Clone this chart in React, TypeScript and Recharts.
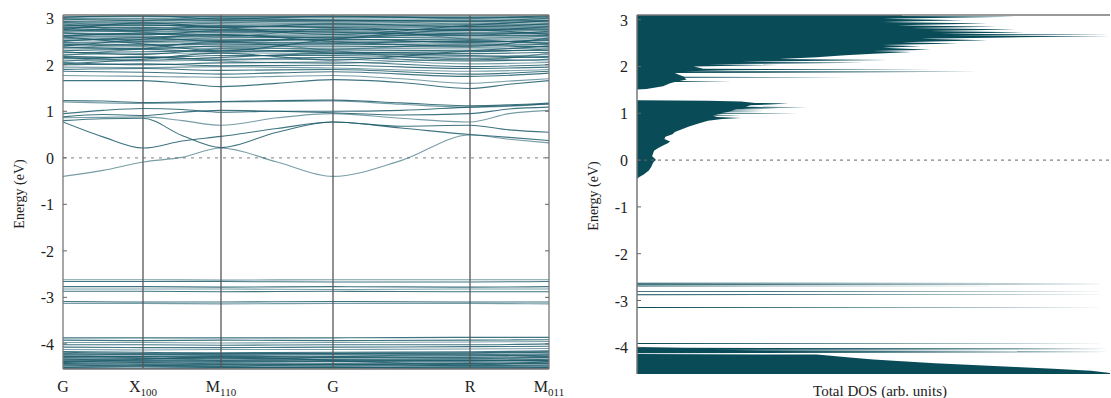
import React from 'react';
import { ComposedChart, AreaChart, Area, Line, XAxis, YAxis, ReferenceLine } from 'recharts';

// high-symmetry path
const kTicks = [0, 0.8, 1.58, 2.7, 4.07, 4.86];
const kNames = ['G', 'X', 'M', 'G', 'R', 'M'];
const kSubs = ['', '100', '110', '', '', '011'];
// finer path for the bands inside the gap
const kFine = [0, 0.4, 0.8, 1.19, 1.58, 2.14, 2.7, 3.38, 4.07, 4.46, 4.86];
const energyTicks = [-4, -3, -2, -1, 0, 1, 2, 3];

// bands around the Fermi level, on kFine
const gapBands = [
  [-0.40, -0.27, -0.09, 0.01, 0.21, -0.09, -0.40, -0.06, 0.49, 0.40, 0.32],
  [0.77, 0.45, 0.21, 0.36, 0.46, 0.63, 0.77, 0.64, 0.50, 0.44, 0.37],
  [0.80, 0.84, 0.85, 0.48, 0.22, 0.55, 0.77, 0.68, 0.70, 0.60, 0.55],
  [0.86, 0.87, 0.88, 0.80, 0.70, 0.86, 0.95, 0.85, 0.77, 0.95, 1.02],
  [0.88, 0.93, 0.91, 0.98, 1.02, 1.00, 0.97, 0.92, 0.95, 1.05, 1.09],
  [0.95, 1.02, 1.06, 1.04, 0.98, 1.00, 1.00, 1.02, 1.09, 1.12, 1.16],
  [1.20, 1.18, 1.17, 1.18, 1.20, 1.21, 1.22, 1.15, 1.09, 1.11, 1.16],
  [1.23, 1.22, 1.19, 1.20, 1.21, 1.23, 1.24, 1.18, 1.12, 1.14, 1.18],
  [1.66, 1.66, 1.66, 1.60, 1.53, 1.60, 1.68, 1.62, 1.49, 1.58, 1.66],
  [1.77, 1.76, 1.75, 1.74, 1.73, 1.75, 1.77, 1.70, 1.60, 1.65, 1.70],
];

// conduction manifold, values at kTicks
const upperBands = [
  [1.86, 1.84, 1.80, 1.85, 1.75, 1.82],
  [1.90, 1.92, 1.88, 1.90, 1.80, 1.86],
  [1.95, 1.94, 1.96, 1.93, 1.86, 1.90],
  [2.00, 2.02, 1.98, 1.99, 1.92, 1.95],
  [2.05, 2.00, 2.04, 2.06, 1.96, 2.00],
  [2.10, 2.08, 2.10, 2.12, 2.02, 2.05],
  [2.14, 2.16, 2.12, 2.16, 2.08, 2.12],
  [2.18, 2.15, 2.20, 2.20, 2.14, 2.18],
  [2.22, 2.24, 2.26, 2.24, 2.18, 2.22],
  [2.26, 2.28, 2.30, 2.28, 2.24, 2.27],
  [2.30, 2.33, 2.28, 2.32, 2.30, 2.31],
  [2.34, 2.36, 2.35, 2.36, 2.34, 2.36],
  [2.38, 2.35, 2.40, 2.40, 2.38, 2.40],
  [2.42, 2.44, 2.43, 2.44, 2.42, 2.44],
  [2.45, 2.48, 2.46, 2.48, 2.46, 2.48],
  [2.48, 2.50, 2.52, 2.51, 2.50, 2.52],
  [2.52, 2.55, 2.55, 2.54, 2.55, 2.56],
  [2.55, 2.58, 2.60, 2.58, 2.60, 2.60],
  [2.60, 2.60, 2.63, 2.62, 2.63, 2.63],
  [2.63, 2.65, 2.66, 2.66, 2.66, 2.66],
  [2.66, 2.68, 2.70, 2.69, 2.70, 2.70],
  [2.70, 2.72, 2.72, 2.72, 2.73, 2.73],
  [2.73, 2.75, 2.76, 2.76, 2.76, 2.76],
  [2.76, 2.78, 2.79, 2.80, 2.80, 2.80],
  [2.80, 2.80, 2.82, 2.83, 2.83, 2.83],
  [2.83, 2.84, 2.85, 2.86, 2.86, 2.86],
  [2.86, 2.88, 2.88, 2.89, 2.90, 2.89],
  [2.90, 2.90, 2.92, 2.92, 2.93, 2.92],
  [2.93, 2.94, 2.95, 2.95, 2.96, 2.95],
  [2.96, 2.98, 2.97, 2.98, 2.99, 2.98],
  [3.00, 3.00, 3.01, 3.01, 3.02, 3.01],
  [3.03, 3.04, 3.04, 3.04, 3.05, 3.04],
  [2.20, 2.35, 2.50, 2.30, 2.10, 2.25],
  [2.60, 2.45, 2.30, 2.55, 2.75, 2.65],
  [2.02, 2.12, 2.25, 2.10, 2.30, 2.40],
  [2.88, 2.70, 2.60, 2.78, 2.55, 2.45],
  [2.40, 2.55, 2.65, 2.50, 2.40, 2.58],
  [2.75, 2.90, 2.80, 2.65, 2.85, 2.95],
  [2.07, 2.18, 2.08, 2.03, 2.12, 2.08],
  [2.16, 2.10, 2.16, 2.24, 2.20, 2.15],
  [2.28, 2.22, 2.34, 2.26, 2.28, 2.34],
  [2.36, 2.42, 2.38, 2.34, 2.44, 2.38],
  [2.44, 2.40, 2.48, 2.46, 2.52, 2.46],
  [2.50, 2.58, 2.50, 2.56, 2.48, 2.54],
  [2.57, 2.52, 2.58, 2.60, 2.57, 2.62],
  [2.62, 2.68, 2.64, 2.58, 2.68, 2.68],
  [2.68, 2.64, 2.74, 2.70, 2.64, 2.72],
  [2.72, 2.78, 2.70, 2.74, 2.78, 2.78],
  [2.78, 2.74, 2.84, 2.80, 2.74, 2.82],
  [2.84, 2.86, 2.80, 2.88, 2.82, 2.88],
  [2.91, 2.84, 2.90, 2.94, 2.88, 2.94],
  [2.98, 2.95, 3.00, 2.96, 2.94, 3.00],
  [3.02, 3.06, 2.98, 3.05, 3.00, 3.06],
];

// flat semicore / deep bands, values at kTicks
const lowerBands = [
  [-2.62, -2.62, -2.63, -2.62, -2.62, -2.62],
  [-2.66, -2.66, -2.66, -2.67, -2.67, -2.66],
  [-2.77, -2.77, -2.78, -2.77, -2.78, -2.77],
  [-2.82, -2.82, -2.82, -2.83, -2.82, -2.82],
  [-2.87, -2.87, -2.88, -2.87, -2.88, -2.88],
  [-3.09, -3.10, -3.10, -3.09, -3.10, -3.10],
  [-3.13, -3.13, -3.14, -3.13, -3.13, -3.14],
  [-3.87, -3.87, -3.87, -3.87, -3.86, -3.86],
  [-3.92, -3.93, -3.92, -3.93, -3.92, -3.91],
  [-3.97, -3.97, -3.98, -3.97, -3.96, -3.95],
  [-4.02, -4.02, -4.03, -4.02, -4.02, -4.00],
  [-4.07, -4.08, -4.08, -4.07, -4.06, -4.05],
  [-4.12, -4.13, -4.12, -4.12, -4.11, -4.10],
];
const deepBands = [
  [-4.18, -4.20, -4.19, -4.18, -4.17, -4.15],
  [-4.21, -4.23, -4.22, -4.21, -4.20, -4.18],
  [-4.24, -4.26, -4.25, -4.24, -4.23, -4.21],
  [-4.27, -4.28, -4.28, -4.27, -4.26, -4.24],
  [-4.30, -4.31, -4.30, -4.30, -4.29, -4.27],
  [-4.32, -4.34, -4.33, -4.33, -4.32, -4.30],
  [-4.35, -4.36, -4.36, -4.35, -4.35, -4.33],
  [-4.38, -4.39, -4.38, -4.38, -4.37, -4.36],
  [-4.40, -4.42, -4.41, -4.41, -4.40, -4.39],
  [-4.43, -4.44, -4.44, -4.43, -4.43, -4.42],
  [-4.46, -4.47, -4.46, -4.46, -4.46, -4.45],
  [-4.48, -4.49, -4.49, -4.49, -4.48, -4.48],
  [-4.51, -4.52, -4.51, -4.51, -4.51, -4.51],
  [-4.53, -4.54, -4.54, -4.54, -4.53, -4.53],
  [-4.25, -4.30, -4.35, -4.28, -4.22, -4.26],
  [-4.40, -4.33, -4.28, -4.36, -4.45, -4.38],
  [-4.165, -4.18, -4.21, -4.20, -4.19, -4.17],
  [-4.225, -4.21, -4.24, -4.23, -4.25, -4.23],
  [-4.285, -4.27, -4.26, -4.29, -4.31, -4.29],
  [-4.34, -4.32, -4.31, -4.34, -4.36, -4.35],
  [-4.37, -4.38, -4.40, -4.37, -4.34, -4.37],
  [-4.42, -4.40, -4.43, -4.45, -4.42, -4.41],
  [-4.45, -4.46, -4.48, -4.44, -4.47, -4.47],
  [-4.50, -4.48, -4.50, -4.52, -4.49, -4.50],
  [-4.52, -4.53, -4.52, -4.50, -4.54, -4.52],
  [-4.55, -4.55, -4.56, -4.55, -4.55, -4.55],
];

// total DOS as [energy, dos %] pairs
const dosDeep = [
  [-4.62, 100], [-4.55, 100], [-4.5, 96], [-4.46, 88], [-4.42, 80], [-4.38, 71], [-4.34, 63],
  [-4.3, 56], [-4.26, 50], [-4.22, 45], [-4.18, 41], [-4.155, 38], [-4.145, 0], [-4.125, 0],
  [-4.11, 100], [-4.1, 20], [-4.085, 100], [-4.07, 20], [-4.055, 100], [-4.04, 15], [-4.025, 100],
  [-4.01, 10], [-3.995, 0], [-3.93, 0], [-3.92, 100], [-3.91, 0],
];
const dosSemicore = [
  [-3.16, 0], [-3.15, 100], [-3.14, 0], [-2.885, 0], [-2.875, 100], [-2.865, 0], [-2.82, 0],
  [-2.81, 100], [-2.8, 0], [-2.7, 0], [-2.69, 100], [-2.68, 0], [-2.67, 0], [-2.66, 100],
  [-2.65, 0], [-2.64, 0], [-2.63, 100], [-2.62, 0],
];
const dosGap = [
  [-0.4, 0], [-0.36, 0.5], [-0.3, 1.5], [-0.22, 2.5], [-0.15, 3], [-0.08, 3.3], [-0.04, 3.5], [0, 4],
  [0.03, 3.8], [0.08, 3.2], [0.14, 3.4], [0.2, 3.6], [0.26, 4.5], [0.31, 5.5], [0.36, 6.5], [0.4, 7],
  [0.45, 5.8], [0.5, 6], [0.55, 7.5], [0.6, 8], [0.66, 9.5], [0.72, 11], [0.78, 13], [0.84, 15],
  [0.88, 18], [0.9, 22], [0.92, 17], [0.95, 16], [0.96, 22], [0.97, 16.5], [0.99, 18], [1.0, 34],
  [1.01, 18], [1.04, 20], [1.05, 27], [1.06, 20], [1.08, 21], [1.1, 30], [1.11, 22], [1.13, 36],
  [1.14, 23], [1.17, 24], [1.19, 28], [1.21, 32], [1.22, 25], [1.25, 22], [1.27, 15], [1.28, 0],
];
const dosConduction = [
  [1.29, 0], [1.51, 0], [1.52, 2], [1.58, 5.5], [1.64, 7], [1.67, 8], [1.68, 20], [1.69, 9],
  [1.72, 10.5], [1.76, 10], [1.77, 45], [1.78, 10], [1.82, 9], [1.86, 8], [1.89, 72], [1.9, 10],
  [1.92, 20], [1.94, 63], [1.95, 14], [2.0, 12], [2.03, 30], [2.05, 15], [2.08, 48], [2.1, 22],
  [2.14, 53], [2.16, 30], [2.2, 38], [2.24, 44], [2.27, 50], [2.31, 58], [2.33, 50], [2.36, 62],
  [2.4, 52], [2.43, 60], [2.46, 52], [2.49, 68], [2.52, 56], [2.56, 74], [2.59, 60], [2.62, 78],
  [2.645, 100], [2.66, 66], [2.68, 100], [2.7, 64], [2.73, 82], [2.76, 62], [2.79, 80], [2.82, 58],
  [2.85, 76], [2.88, 55], [2.92, 74], [2.95, 52], [2.99, 69], [3.02, 52], [3.06, 80], [3.08, 56],
  [3.14, 56],
];

const serif = 'Liberation Serif, Times New Roman, serif';
const bandColor = '#1d5c6b';
const dosColor = '#0a4b58';

const bandSeries = [
  ...gapBands.map((b) => b.map((e, i) => ({ k: kFine[i], e }))),
  ...upperBands.concat(lowerBands, deepBands).map((b) => b.map((e, i) => ({ k: kTicks[i], e }))),
];
const dosData = [...dosDeep, ...dosSemicore, ...dosGap, ...dosConduction].map(([e, d]) => ({ e, d }));

const KTick = ({ x, y, payload, index }: any) => {
  const i = index ?? kTicks.indexOf(payload.value);
  return (
    <text x={x} y={y + 23} textAnchor="middle" fontSize={16} style={{ fontFamily: serif }} fill="#222">
      <tspan>{kNames[i]}</tspan>
      {kSubs[i] ? <tspan fontSize={11} dy={4}>{kSubs[i]}</tspan> : null}
    </text>
  );
};

const ETick = ({ x, y, payload, side }: any) => {
  if (side === 'right') {
    return <line x1={x - 4} x2={x} y1={y} y2={y} stroke="#666" />;
  }
  return (
    <g>
      <line x1={x} x2={x + 4} y1={y} y2={y} stroke="#666" />
      <text x={x - 9} y={y + 6} textAnchor="end" fontSize={16} style={{ fontFamily: serif }} fill="#222">
        {payload.value}
      </text>
    </g>
  );
};

const EnergyLabel = ({ cx, cy }: any) => (
  <text
    x={cx}
    y={cy}
    transform={`rotate(-90 ${cx} ${cy})`}
    textAnchor="middle"
    dominantBaseline="central"
    fontSize={14}
    style={{ fontFamily: serif }}
    fill="#222"
  >
    Energy (eV)
  </text>
);

const DosLabel = ({ viewBox }: any) => (
  <text x={320} y={391} textAnchor="middle" dominantBaseline="central" fontSize={15} style={{ fontFamily: serif }} fill="#222">
    Total DOS (arb. units)
  </text>
);

const BandPanel = () => (
  <ComposedChart width={600} height={398} margin={{ top: 15, right: 0, bottom: 0, left: 0 }}>
    <XAxis
      type="number"
      dataKey="k"
      domain={[0, 4.86]}
      ticks={kTicks}
      tick={<KTick />}
      tickSize={0}
      tickMargin={0}
      height={29}
      axisLine={false}
      allowDataOverflow
    />
    <YAxis
      type="number"
      domain={[-4.54, 3.07]}
      ticks={energyTicks}
      width={63}
      tick={<ETick side="left" />}
      tickSize={0}
      tickMargin={0}
      axisLine={false}
      allowDataOverflow
      label={<EnergyLabel cx={19} cy={194} />}
    />
    <YAxis
      yAxisId="r"
      orientation="right"
      type="number"
      domain={[-4.54, 3.07]}
      ticks={energyTicks}
      width={51}
      tick={<ETick side="right" />}
      tickSize={0}
      tickMargin={0}
      axisLine={false}
      allowDataOverflow
    />
    <ReferenceLine y={0} stroke="#999" strokeDasharray="3 5" strokeWidth={1.3} />
    {bandSeries.map((pts, i) => (
      <Line
        key={i}
        data={pts}
        dataKey="e"
        type="monotone"
        stroke={bandColor}
        strokeOpacity={i % 3 === 0 ? 0.6 : 0.85}
        strokeWidth={1.1}
        dot={false}
        activeDot={false}
        isAnimationActive={false}
      />
    ))}
    {kTicks.map((k, i) => (
      <ReferenceLine key={'k' + i} x={k} stroke={i === 0 || i === 5 ? '#777' : '#555'} strokeWidth={1.3} />
    ))}
    <ReferenceLine y={3.07} stroke="#777" strokeWidth={1.5} />
    <ReferenceLine y={-4.54} stroke="#777" strokeWidth={1.5} />
  </ComposedChart>
);

const DosPanel = () => (
  <AreaChart layout="vertical" width={551} height={398} data={dosData} margin={{ top: 15, right: 1, bottom: 0, left: 0 }}>
    <XAxis
      type="number"
      domain={[0, 100]}
      allowDataOverflow
      tick={false}
      tickSize={0}
      axisLine={false}
      height={24}
      label={<DosLabel />}
    />
    <YAxis
      type="number"
      dataKey="e"
      domain={[-4.57, 3.1]}
      ticks={energyTicks}
      reversed
      allowDataOverflow
      width={77}
      tick={<ETick side="left" />}
      tickSize={0}
      tickMargin={0}
      axisLine={{ stroke: '#777', strokeWidth: 1.5 }}
      label={<EnergyLabel cx={33} cy={196} />}
    />
    <ReferenceLine y={0} stroke="#666" strokeDasharray="3 4" />
    <Area dataKey="d" type="linear" fill={dosColor} fillOpacity={1} stroke="none" isAnimationActive={false} />
    <ReferenceLine y={3.1} stroke="#777" strokeWidth={1.5} />
  </AreaChart>
);

export default function App() {
  return (
    <div style={{ position: 'absolute', left: 0, top: 0, width: 1111, height: 398, background: '#fff', overflow: 'hidden' }}>
      <div style={{ position: 'absolute', left: 0, top: 0 }}>
        <BandPanel />
      </div>
      <div style={{ position: 'absolute', left: 560, top: 0 }}>
        <DosPanel />
      </div>
    </div>
  );
}
